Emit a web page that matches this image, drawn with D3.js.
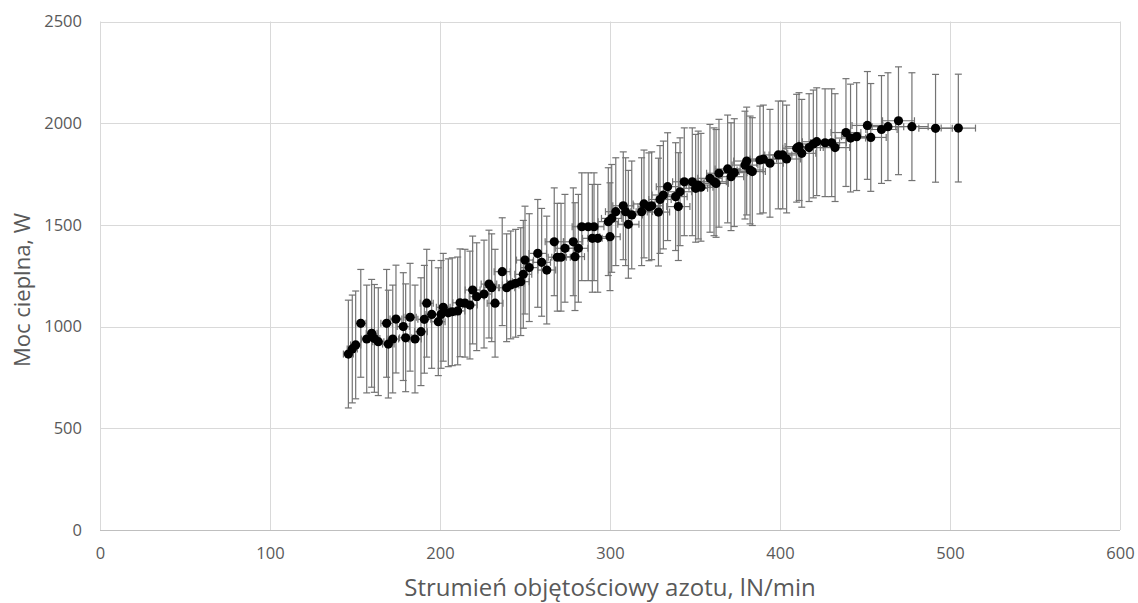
<!DOCTYPE html>
<html>
<head>
<meta charset="utf-8">
<script src="https://cdn.jsdelivr.net/npm/d3@7"></script>
<style>
  body { margin: 0; background: #fff; }
  svg { display: block; }
</style>
</head>
<body>
<svg id="chart" width="1138" height="603"></svg>
<script>
// Nitrogen volumetric flow, lN/min
const flow = [
  146.1, 148.4, 150.4, 153.4, 156.9, 159.8, 161.4, 163.7, 168.6, 169.6,
  172.2, 174.1, 178.4, 179.8, 182.4, 185.3, 188.8, 190.8, 192.2, 195.1,
  199.0, 200.6, 201.9, 204.9, 207.2, 210.4, 211.8, 214.7, 217.6, 219.2,
  221.6, 225.9, 228.8, 230.4, 232.4,
  236.6, 239.2, 241.6, 244.5, 247.5, 249.0, 250.0, 252.5, 257.5, 259.8,
  262.8, 267.2, 269.0, 271.2, 273.5, 278.4, 279.4, 281.4, 283.4, 287.2,
  289.6, 290.6, 292.8, 299.0, 300.0, 301.0, 303.4, 307.8, 309.2, 310.8,
  312.8, 318.6, 320.0, 322.9, 324.5, 328.5, 329.4,
  331.4, 333.9, 338.6, 340.2, 341.2, 343.7, 348.4, 350.4, 351.9, 353.5,
  358.8, 361.2, 362.4, 364.1, 369.2, 371.2, 373.1, 379.4, 380.4, 382.4,
  383.7, 388.2, 390.2, 394.1, 399.0, 401.6, 403.9, 409.8, 411.2, 412.8,
  417.1, 419.6, 421.6,
  426.5, 430.4, 432.4, 438.8, 441.5, 445.1, 451.4, 453.4, 459.7, 463.5,
  469.7, 477.6, 491.5, 504.9
];

// Heat output, W
const power = [
  865, 890, 910, 1016, 939, 967, 942, 926, 1016, 914,
  939, 1037, 1000, 945, 1046, 939, 975, 1036, 1115, 1060,
  1024, 1060, 1095, 1068, 1073, 1077, 1117, 1115, 1106, 1180,
  1147, 1160, 1209, 1191, 1115,
  1270, 1191, 1205, 1213, 1221, 1257, 1327, 1290, 1360, 1316,
  1278, 1417, 1341, 1341, 1385, 1417, 1344, 1385, 1491, 1491,
  1434, 1491, 1434, 1516, 1442, 1532, 1565, 1594, 1565, 1503,
  1549, 1565, 1603, 1589, 1594, 1563, 1625,
  1647, 1688, 1639, 1590, 1663, 1712, 1712, 1680, 1696, 1685,
  1729, 1712, 1704, 1754, 1775, 1737, 1757, 1794, 1814, 1770,
  1762, 1819, 1824, 1803, 1844, 1844, 1824, 1877, 1885, 1852,
  1880, 1898, 1909,
  1904, 1904, 1880, 1954, 1927, 1934, 1989, 1930, 1969, 1983,
  2012, 1983, 1975, 1976
];

const xTicks = [0, 100, 200, 300, 400, 500, 600];
const yTicks = [0, 500, 1000, 1500, 2000, 2500];

// Measurement uncertainty: relative for flow, absolute for power
const flowErrRel = 0.02;
const powerErr = 265;

const xTitle = "Strumień objętościowy azotu, lN/min";
const yTitle = "Moc cieplna, W";

const data = flow.map((f, i) => ({ f, p: power[i] }));

const svg = d3.select("#chart");
const plot = { left: 100, right: 1120, top: 21.5, bottom: 530 };

const x = d3.scaleLinear().domain([0, 600]).range([plot.left, plot.right]);
const y = d3.scaleLinear().domain([0, 2500]).range([plot.bottom, plot.top]);

const font = "'Open Sans', 'Noto Sans', sans-serif";
const textColor = "#595959";
const gridColor = "#d9d9d9";

// Grid
const grid = svg.append("g");
grid.selectAll("line.v").data(xTicks).join("line")
  .attr("x1", d => Math.round(x(d)) + 0.5).attr("x2", d => Math.round(x(d)) + 0.5)
  .attr("y1", plot.top).attr("y2", plot.bottom)
  .attr("stroke", gridColor).attr("stroke-width", 1);
grid.selectAll("line.h").data(yTicks).join("line")
  .attr("x1", plot.left).attr("x2", plot.right)
  .attr("y1", d => Math.round(y(d)) + 0.5).attr("y2", d => Math.round(y(d)) + 0.5)
  .attr("stroke", d => d === 0 ? "#bfbfbf" : gridColor).attr("stroke-width", 1);

// Axes (labels only, lines come from the grid)
const fmt = d3.format("d");
const xAxis = d3.axisBottom(x).tickValues(xTicks).tickFormat(fmt).tickSize(0).tickPadding(17);
svg.append("g").attr("transform", `translate(0,${plot.bottom})`).call(xAxis)
  .call(g => g.select(".domain").remove())
  .call(g => g.selectAll("text").attr("fill", textColor)
    .style("font-family", font).style("font-size", "16.5px"));

const yAxis = d3.axisLeft(y).tickValues(yTicks).tickFormat(fmt).tickSize(0).tickPadding(18);
svg.append("g").attr("transform", `translate(${plot.left},0)`).call(yAxis)
  .call(g => g.select(".domain").remove())
  .call(g => g.selectAll("text").attr("fill", textColor)
    .style("font-family", font).style("font-size", "16.5px"));

// Error bars
const barColor = "#737373";
const cap = 3.5;
const eb = svg.append("g").attr("stroke", barColor).attr("stroke-width", 1.2).attr("fill", "none");
const groups = eb.selectAll("g").data(data).join("g");

groups.append("line")
  .attr("x1", d => x(d.f)).attr("x2", d => x(d.f))
  .attr("y1", d => y(d.p - powerErr)).attr("y2", d => y(d.p + powerErr));
groups.append("line")
  .attr("x1", d => x(d.f) - cap).attr("x2", d => x(d.f) + cap)
  .attr("y1", d => y(d.p + powerErr)).attr("y2", d => y(d.p + powerErr));
groups.append("line")
  .attr("x1", d => x(d.f) - cap).attr("x2", d => x(d.f) + cap)
  .attr("y1", d => y(d.p - powerErr)).attr("y2", d => y(d.p - powerErr));

groups.append("line")
  .attr("x1", d => x(d.f * (1 - flowErrRel))).attr("x2", d => x(d.f * (1 + flowErrRel)))
  .attr("y1", d => y(d.p)).attr("y2", d => y(d.p));
groups.append("line")
  .attr("x1", d => x(d.f * (1 - flowErrRel))).attr("x2", d => x(d.f * (1 - flowErrRel)))
  .attr("y1", d => y(d.p) - cap).attr("y2", d => y(d.p) + cap);
groups.append("line")
  .attr("x1", d => x(d.f * (1 + flowErrRel))).attr("x2", d => x(d.f * (1 + flowErrRel)))
  .attr("y1", d => y(d.p) - cap).attr("y2", d => y(d.p) + cap);

// Markers
svg.append("g").selectAll("circle").data(data).join("circle")
  .attr("cx", d => x(d.f)).attr("cy", d => y(d.p)).attr("r", 4.6)
  .attr("fill", "#000");

// Axis titles
svg.append("text")
  .attr("x", (plot.left + plot.right) / 2).attr("y", 596)
  .attr("text-anchor", "middle").attr("fill", textColor)
  .style("font-family", font).style("font-size", "24px")
  .text(xTitle);

svg.append("text")
  .attr("transform", "translate(30,290) rotate(-90)")
  .attr("text-anchor", "middle").attr("fill", textColor)
  .style("font-family", font).style("font-size", "22px")
  .text(yTitle);
</script>
</body>
</html>
